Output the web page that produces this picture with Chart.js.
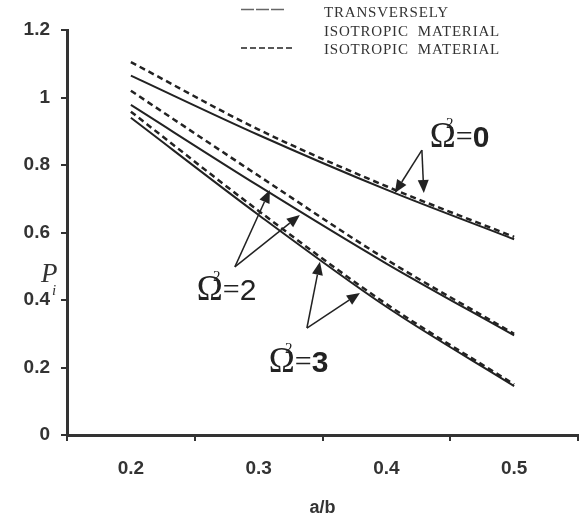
<!DOCTYPE html>
<html>
<head>
<meta charset="utf-8">
<script src="https://cdn.jsdelivr.net/npm/chart.js@4.4.1/dist/chart.umd.min.js"></script>
<style>
  html, body { margin: 0; padding: 0; background: #ffffff; }
  #wrap { position: relative; width: 588px; height: 521px; }
</style>
</head>
<body>
<div id="wrap"><canvas id="c" width="588" height="521"></canvas></div>
<script>
// ---- data ----
const categories = ['0.2', '0.3', '0.4', '0.5'];           // a/b
const transOmega0 = [1.065, 0.889, 0.727, 0.580];
const isoOmega0   = [1.105, 0.905, 0.737, 0.587];
const transOmega2 = [0.978, 0.738, 0.508, 0.295];
const isoOmega2   = [1.020, 0.768, 0.520, 0.300];
const transOmega3 = [0.940, 0.652, 0.380, 0.145];
const isoOmega3   = [0.958, 0.664, 0.388, 0.150];
const yMin = 0, yMax = 1.2, yStep = 0.2;

const legendLabels = ['TRANSVERSELY', 'ISOTROPIC  MATERIAL', 'ISOTROPIC  MATERIAL'];
const xTitle = 'a/b';

// annotations in data units (a/b, P)
const omegaLabels = [
  { value: '0', bold: true,  x: 0.434, y: 0.853 },
  { value: '2', bold: false, x: 0.2516, y: 0.400 },
  { value: '3', bold: true,  x: 0.308, y: 0.187 }
];
const omegaArrows = [
  { from: [0.4278, 0.844], to: [[0.4066, 0.717], [0.4293, 0.717]] },
  { from: [0.2814, 0.498], to: [[0.3088, 0.726], [0.3323, 0.652]] },
  { from: [0.3378, 0.317], to: [[0.3480, 0.513], [0.3793, 0.421]] }
];

const INK = '#222';
const AXIS = '#333';
const tickFont = { family: '"Liberation Sans", Arial, sans-serif', size: 19, weight: 'bold' };

function solid(label, data) {
  return { label, data, borderColor: INK, borderWidth: 2, pointRadius: 0,
           fill: false, cubicInterpolationMode: 'monotone' };
}
function dashed(label, data) {
  return { label, data, borderColor: INK, borderWidth: 2.5, borderDash: [6, 4], pointRadius: 0,
           fill: false, cubicInterpolationMode: 'monotone' };
}

const annotPlugin = {
  id: 'annot',
  afterDraw(chart) {
    const ctx = chart.ctx;
    const xs = chart.scales.x, ys = chart.scales.y;
    const p0 = xs.getPixelForValue(0), p1 = xs.getPixelForValue(1);
    const X = v => p0 + (v - 0.2) / 0.1 * (p1 - p0);
    const Y = v => ys.getPixelForValue(v);
    ctx.save();

    // legend
    ctx.strokeStyle = '#666';
    ctx.lineWidth = 1.3;
    ctx.setLineDash([13, 2]);
    ctx.beginPath(); ctx.moveTo(241, 9.5); ctx.lineTo(285, 9.5); ctx.stroke();
    ctx.strokeStyle = '#222';
    ctx.lineWidth = 1.5;
    ctx.setLineDash([6, 3]);
    ctx.beginPath(); ctx.moveTo(241, 48); ctx.lineTo(292, 48); ctx.stroke();
    ctx.setLineDash([]);
    ctx.fillStyle = '#333';
    ctx.font = '15px "Liberation Serif", "Times New Roman", serif';
    ctx.textAlign = 'left';
    ctx.textBaseline = 'alphabetic';
    if ('letterSpacing' in ctx) ctx.letterSpacing = '0.8px';
    ctx.fillText(legendLabels[0], 324, 17);
    ctx.fillText(legendLabels[1], 324, 36);
    ctx.fillText(legendLabels[2], 324, 54);
    if ('letterSpacing' in ctx) ctx.letterSpacing = '0px';

    // y-axis title P_i
    ctx.fillStyle = '#333';
    ctx.font = 'italic 27px "Liberation Serif", serif';
    ctx.fillText('P', 41, 282);
    ctx.font = 'italic 15px "Liberation Serif", serif';
    ctx.fillText('i', 52, 295);

    // arrows
    ctx.strokeStyle = INK;
    ctx.fillStyle = INK;
    ctx.lineWidth = 1.5;
    omegaArrows.forEach(a => {
      const fx = X(a.from[0]), fy = Y(a.from[1]);
      a.to.forEach(t => {
        const tx = X(t[0]), ty = Y(t[1]);
        const ang = Math.atan2(ty - fy, tx - fx);
        const L = 13, W = 5.5;
        const bx = tx - L * Math.cos(ang), by = ty - L * Math.sin(ang);
        ctx.beginPath(); ctx.moveTo(fx, fy); ctx.lineTo(bx, by); ctx.stroke();
        ctx.beginPath();
        ctx.moveTo(tx, ty);
        ctx.lineTo(bx + W * Math.sin(ang), by - W * Math.cos(ang));
        ctx.lineTo(bx - W * Math.sin(ang), by + W * Math.cos(ang));
        ctx.closePath(); ctx.fill();
      });
    });

    // Omega labels
    ctx.fillStyle = '#222';
    omegaLabels.forEach(l => {
      const x = X(l.x), y = Y(l.y);
      ctx.font = '35px "Liberation Serif", serif';
      ctx.fillText('\u03A9', x, y);
      const w = ctx.measureText('\u03A9').width;
      ctx.font = '15px "Liberation Serif", serif';
      ctx.fillText('2', x + w * 0.62, y - 19);
      ctx.font = '30px "Liberation Serif", serif';
      ctx.fillText('=', x + w, y - 1);
      const we = ctx.measureText('=').width;
      ctx.font = (l.bold ? 'bold ' : '') + '30px "Liberation Sans", sans-serif';
      ctx.fillText(l.value, x + w + we, y);
    });
    ctx.restore();
  }
};

new Chart(document.getElementById('c'), {
  type: 'line',
  data: {
    labels: categories,
    datasets: [
      dashed('Isotropic \u03A9\u00B2=0', isoOmega0),
      solid('Transversely isotropic \u03A9\u00B2=0', transOmega0),
      dashed('Isotropic \u03A9\u00B2=2', isoOmega2),
      solid('Transversely isotropic \u03A9\u00B2=2', transOmega2),
      dashed('Isotropic \u03A9\u00B2=3', isoOmega3),
      solid('Transversely isotropic \u03A9\u00B2=3', transOmega3)
    ]
  },
  options: {
    responsive: false,
    animation: false,
    devicePixelRatio: 1,
    layout: { padding: { top: 30, right: 10, left: 0, bottom: 0 } },
    plugins: { legend: { display: false }, tooltip: { enabled: false } },
    scales: {
      x: {
        type: 'category',
        offset: true,
        grid: { display: true, drawOnChartArea: false, drawTicks: true, tickLength: 6,
                offset: true, color: AXIS, lineWidth: 2 },
        border: { display: true, color: AXIS, width: 3 },
        ticks: { color: '#333', font: tickFont, padding: 16, maxRotation: 0 },
        title: { display: true, text: xTitle, color: '#333',
                 font: { family: '"Liberation Sans", Arial, sans-serif', size: 18, weight: 'bold' },
                 padding: { top: 0, bottom: 2 } },
        afterFit(s) { s.height = 86; }
      },
      y: {
        min: yMin, max: yMax,
        grid: { display: true, drawOnChartArea: false, drawTicks: true, tickLength: 6,
                color: AXIS, lineWidth: 2 },
        border: { display: true, color: AXIS, width: 3 },
        ticks: { stepSize: yStep, color: '#333', font: tickFont, padding: 11,
                 callback: v => String(+v.toFixed(1)) },
        afterFit(s) { s.width = 67; }
      }
    }
  },
  plugins: [annotPlugin]
});
</script>
</body>
</html>
